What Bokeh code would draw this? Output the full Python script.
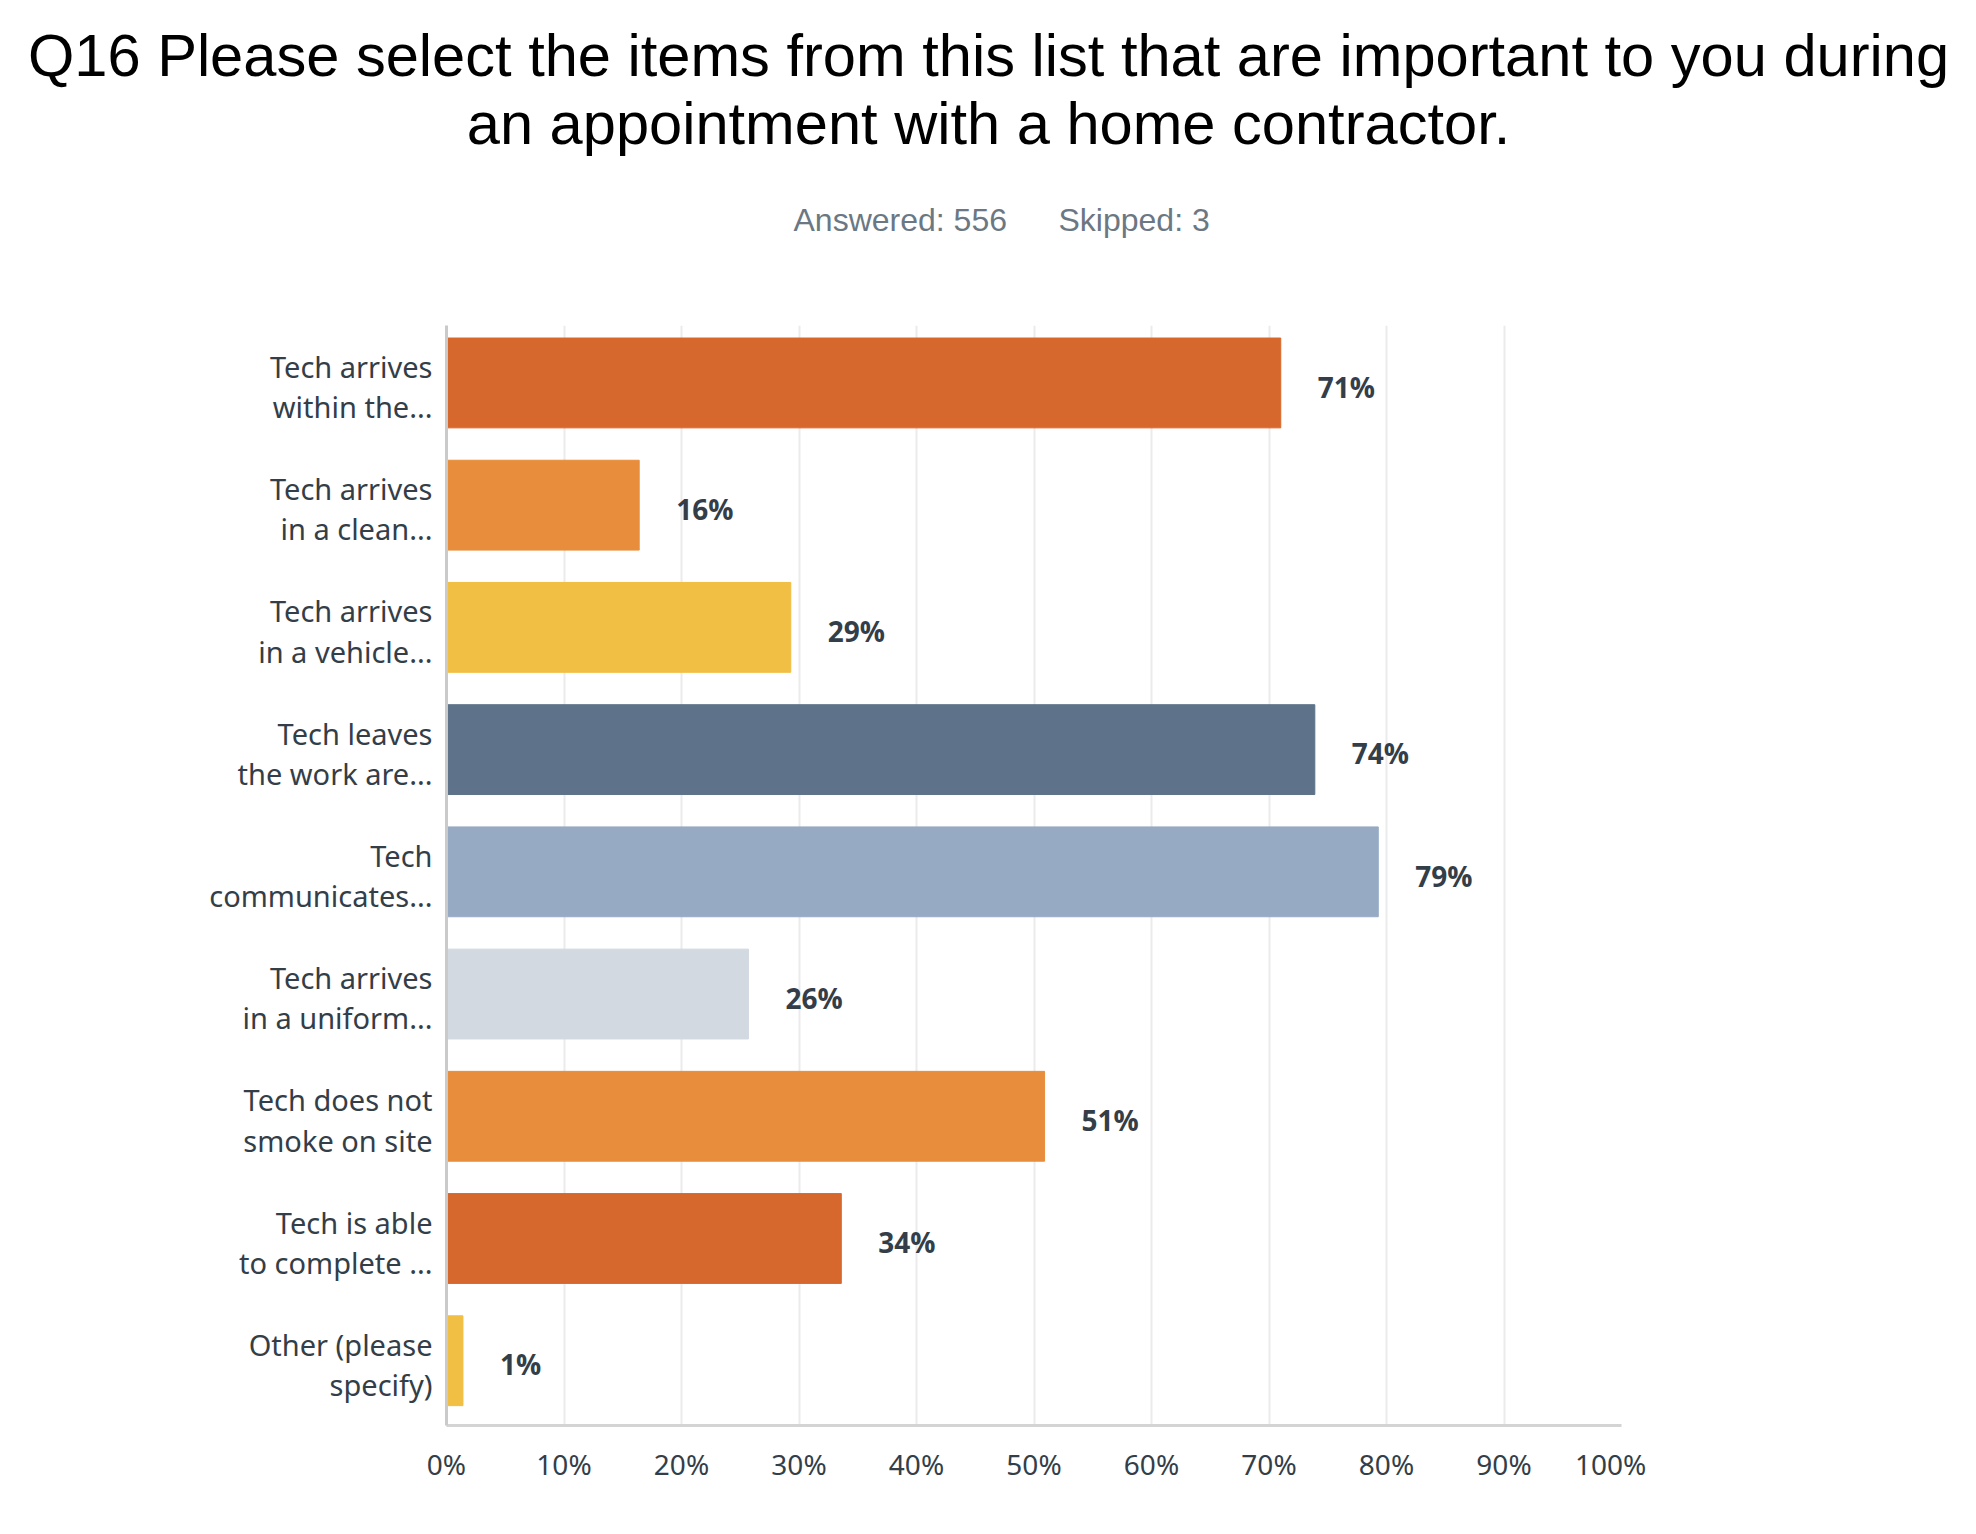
from bokeh.plotting import figure
from bokeh.models import FactorRange, Range1d, FixedTicker, PrintfTickFormatter, ColumnDataSource
from bokeh.transform import dodge
from bokeh.embed import file_html
from bokeh.resources import INLINE
from bokeh.core.properties import value

# ---------------- data ----------------
title_lines = [
    "Q16 Please select the items from this list that are important to you during",
    "an appointment with a home contractor.",
]
answered = 556
skipped = 3

categories = [
    "Tech arrives\nwithin the...",
    "Tech arrives\nin a clean...",
    "Tech arrives\nin a vehicle...",
    "Tech leaves\nthe work are...",
    "Tech\ncommunicates...",
    "Tech arrives\nin a uniform...",
    "Tech does not\nsmoke on site",
    "Tech is able\nto complete ...",
    "Other (please\nspecify)",
]
percents = [71.0, 16.4, 29.3, 73.9, 79.3, 25.7, 50.9, 33.6, 1.4]
bar_colors = ["#d6682d", "#e88d3c", "#f1bf43", "#5e738a", "#97aac4",
              "#d2d9e1", "#e88d3c", "#d6682d", "#f1bf43"]
x_ticks = [0, 10, 20, 30, 40, 50, 60, 70, 80, 90, 100]

W = 1976
TEXT = "#333e48"

# ---------------- header ----------------
HH = 268
hdr = figure(width=W, height=HH, x_range=Range1d(0, W), y_range=Range1d(HH, 0),
             toolbar_location=None, output_backend="svg", min_border=0,
             x_axis_location=None, y_axis_location=None)
try:
    hdr.title = None
except Exception:
    hdr.title.visible = False
hdr.grid.visible = False
hdr.outline_line_color = None
hdr.text(x=[W / 2, W / 2], y=[54.5, 123], text=title_lines, text_align="center",
         text_baseline="alphabetic", text_font=value("Liberation Sans"),
         text_font_size="59.6px", text_color="#000000")
hdr.text(x=[793], y=[219.5], text=[f"Answered: {answered}"], text_align="left",
         text_baseline="alphabetic", text_font=value("Liberation Sans"),
         text_font_size="32px", text_color="#6b7883")
hdr.text(x=[1058], y=[219.5], text=[f"Skipped: {skipped}"], text_align="left",
         text_baseline="alphabetic", text_font=value("Liberation Sans"),
         text_font_size="32px", text_color="#6b7883")

# ---------------- main chart ----------------
src = ColumnDataSource(dict(
    cat=categories,
    pct=percents,
    color=bar_colors,
    label=[f"{round(v):d}%" for v in percents],
))

p = figure(width=W, height=1250,
           y_range=FactorRange(factors=list(reversed(categories))),
           x_range=Range1d(0, 100),
           toolbar_location=None, output_backend="svg",
           min_border_left=446, min_border_right=355,
           min_border_top=57, min_border_bottom=93)
p.outline_line_color = None

p.hbar(y=dodge("cat", 0.03, range=p.y_range), left=0, right="pct", height=0.735,
       color="color", source=src)
p.text(x="pct", y="cat", text="label", source=src, x_offset=37,
       text_baseline="middle", text_align="left",
       text_font=value("Open Sans"), text_font_style="bold",
       text_font_size="28px", text_color=TEXT)

p.xaxis.ticker = FixedTicker(ticks=x_ticks)
p.xaxis.formatter = PrintfTickFormatter(format="%d%%")
p.xaxis.major_label_overrides = {100: "100%\u00a0\u00a0\u00a0"}
p.xaxis.axis_line_color = "#d4d4d4"
p.xaxis.axis_line_width = 3
p.xaxis.major_tick_line_color = None
p.xaxis.minor_tick_line_color = None
p.xaxis.major_label_text_font = "Noto Sans"
p.xaxis.major_label_text_font_size = "28px"
p.xaxis.major_label_text_color = TEXT
p.xaxis.major_label_standoff = 13

p.yaxis.axis_line_color = "#cacaca"
p.yaxis.axis_line_width = 3
p.yaxis.major_tick_line_color = None
p.yaxis.minor_tick_line_color = None
p.yaxis.major_label_text_font = "Noto Sans"
p.yaxis.major_label_text_font_size = "29px"
p.yaxis.major_label_text_color = TEXT
p.yaxis.major_label_text_line_height = 1.03
p.yaxis.major_label_standoff = 8

p.xgrid.ticker = FixedTicker(ticks=x_ticks)
p.xgrid.grid_line_color = "#ebebeb"
p.xgrid.grid_line_width = 2
p.ygrid.grid_line_color = None

open("out.html", "w").write(file_html([hdr, p], INLINE))
